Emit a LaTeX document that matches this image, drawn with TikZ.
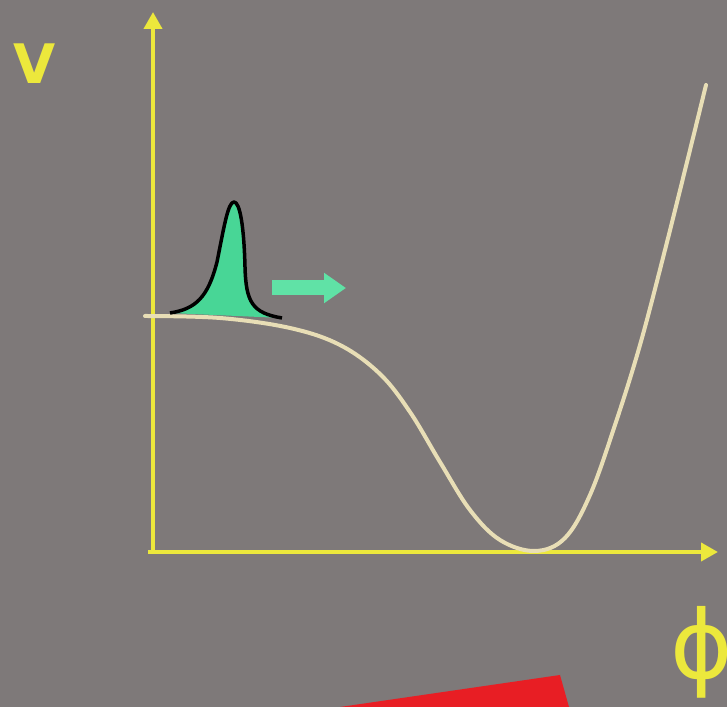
\documentclass[tikz,border=0pt]{standalone}
\usepackage{fontspec}
\setsansfont{DejaVu Sans}
\usepackage{xcolor}
\usetikzlibrary{arrows.meta}
\definecolor{screengray}{RGB}{126,121,121}
\definecolor{axisyellow}{RGB}{236,232,60}
\definecolor{curvecream}{RGB}{232,222,182}
\definecolor{packetgreen}{RGB}{72,214,150}
\definecolor{pushgreen}{RGB}{96,226,166}
\definecolor{wedgered}{RGB}{232,30,36}

\begin{document}
\begin{tikzpicture}[
  axis/.style={axisyellow,line width=0.4mm,-{Triangle[width=1.8mm,length=1.7mm]}},
  potential/.style={curvecream,line width=0.4mm,line cap=round},
  packet/.style={black,line width=0.35mm,fill=packetgreen,line join=round},
  push/.style={pushgreen,line width=1.5mm,-{Triangle[width=2.9mm,length=2.2mm]}},
  axislabel/.style={text=axisyellow,font=\sffamily,inner sep=0pt}
]
\useasboundingbox[fill=screengray] (0,0) rectangle (7.27,7.07);
% red wedge cut by the bottom edge
\fill[wedgered] (3.40,0) -- (5.60,0.32) -- (5.69,0) -- cycle;
% axes
\coordinate (origin) at (1.53,1.55);
\coordinate (ytip) at (1.53,6.95);
\coordinate (xtip) at (7.18,1.55);
\draw[axis] (1.48,1.55) -- (xtip);
\draw[axis] (1.53,1.53) -- (ytip);
\node[axislabel,font=\sffamily\bfseries\fontsize{15.5}{16}\selectfont] (vlabel) at (0.35,6.43) {V};
\node[axislabel,font=\sffamily\fontsize{27}{27}\selectfont] (philabel) at (7.02,0.55) {ϕ};
% potential curve
\draw[potential] plot[smooth,tension=0.6] coordinates {
  (1.45,3.91) (2.20,3.89) (2.90,3.79) (3.40,3.62) (3.80,3.33) (4.10,2.95)
  (4.40,2.45) (4.70,1.97) (5.00,1.67) (5.35,1.56) (5.65,1.69) (5.90,2.12)
  (6.15,2.82) (6.40,3.62) (6.65,4.57) (6.90,5.57) (7.06,6.22)};
% wave packet
\draw[packet] (1.70,3.94) .. controls (1.96,3.98) and (2.08,4.10) .. (2.17,4.45)
  .. controls (2.24,4.80) and (2.28,5.05) .. (2.34,5.05)
  .. controls (2.40,5.05) and (2.44,4.80) .. (2.45,4.40)
  .. controls (2.46,4.05) and (2.52,3.94) .. (2.82,3.89);
% push arrow
\coordinate (pushstart) at (2.72,4.19);
\coordinate (pushend) at (3.46,4.19);
\draw[push] (pushstart) -- (pushend);
\end{tikzpicture}
\end{document}
